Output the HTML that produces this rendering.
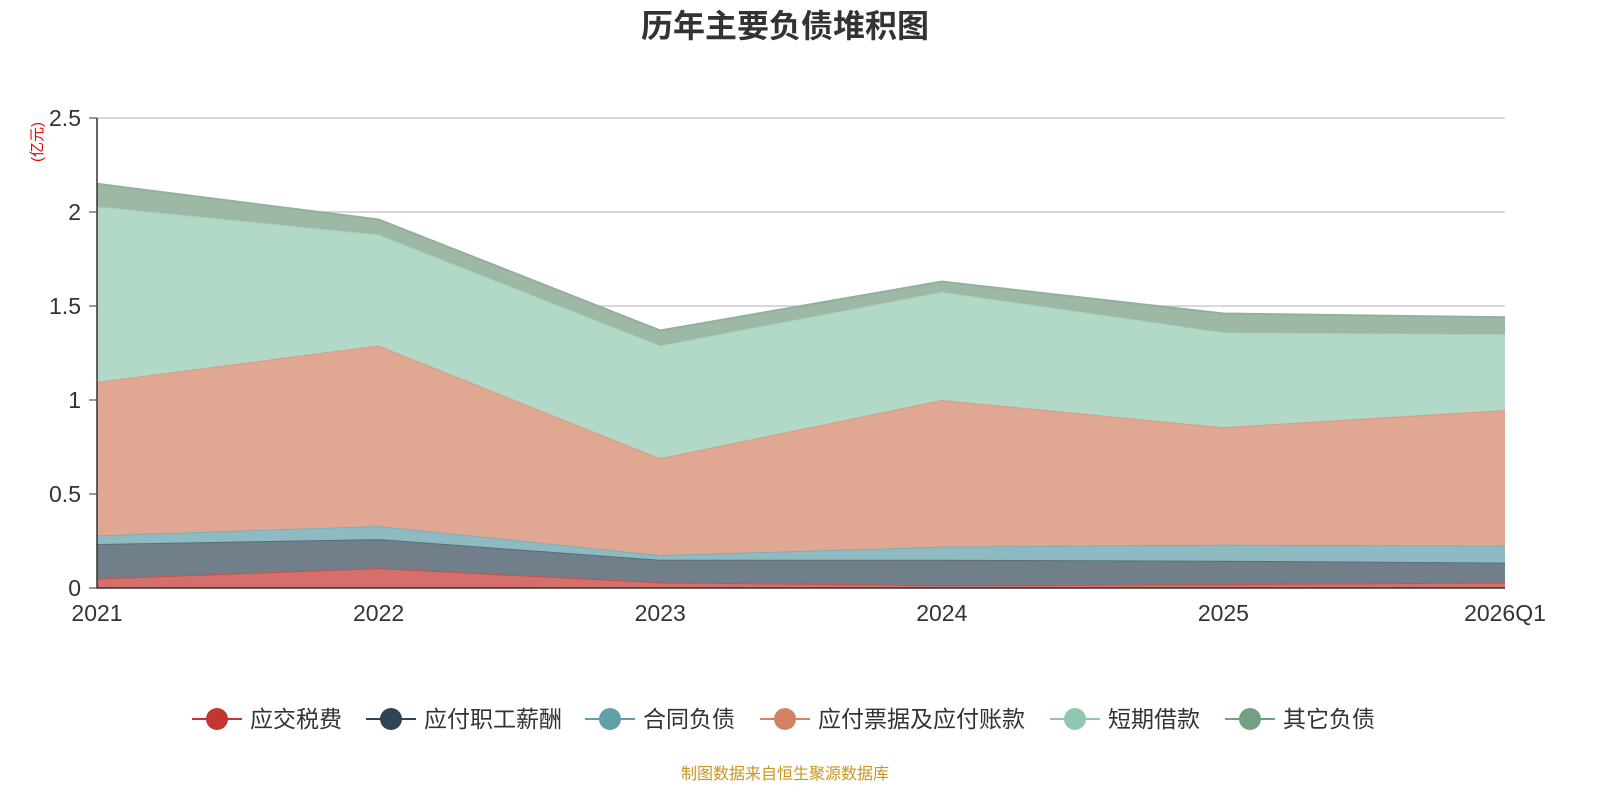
<!DOCTYPE html>
<html><head><meta charset="utf-8"><style>
body{margin:0;background:#fff;font-family:"Liberation Sans","Noto Sans CJK SC",sans-serif;}
svg text{font-family:"Liberation Sans","Noto Sans CJK SC",sans-serif;}
</style></head><body>
<svg id="chart" width="1600" height="800" xmlns="http://www.w3.org/2000/svg">
<text x="785" y="37" text-anchor="middle" font-size="32" font-weight="bold" fill="#333">历年主要负债堆积图</text>
<text transform="translate(42,142) rotate(-90)" text-anchor="middle" font-size="15" fill="#e00">(亿元)</text>
<g id="grid"></g><g id="areas"></g><g id="axes"></g><g id="legend"></g>
<text x="785" y="779" text-anchor="middle" font-size="16" fill="#c8961e">制图数据来自恒生聚源数据库</text>
</svg>
<script>
const categories=["2021","2022","2023","2024","2025","2026Q1"];
const seriesNames=["应交税费","应付职工薪酬","合同负债","应付票据及应付账款","短期借款","其它负债"];
const tax=[0.05,0.106,0.03,0.015,0.02,0.03];
const wages=[0.184,0.154,0.12,0.135,0.125,0.105];
const contract=[0.046,0.07,0.025,0.07,0.085,0.09];
const payables=[0.816,0.96,0.515,0.78,0.625,0.722];
const shortLoans=[0.934,0.59,0.6,0.575,0.505,0.403];
const other=[0.12,0.08,0.08,0.055,0.1,0.09];
const yTicks=[0,0.5,1,1.5,2,2.5];
const yTickLabels=["0","0.5","1","1.5","2","2.5"];
const series=[tax,wages,contract,payables,shortLoans,other];
const fills=["#d4706b","#707f8a","#8ebbc2","#e0a893","#b2d9c8","#9db8a5"];
const strokes=["#c9504a","#5b6b78","#7aaeb6","#d99a83","#a3d1bd","#92b09b"];
const legendColors=["#c23531","#2f4554","#61a0a8","#d48265","#91c7ae","#749f83"];
const NS="http://www.w3.org/2000/svg";
const x0=97,x1=1505,y0=588,yTop=118,yMax=2.5;
const xs=i=>x0+(x1-x0)*i/(categories.length-1);
const ys=v=>y0-(y0-yTop)*v/yMax;
function mk(tag,attrs,parent){const e=document.createElementNS(NS,tag);for(const k in attrs)e.setAttribute(k,attrs[k]);parent.appendChild(e);return e;}
const grid=document.getElementById('grid'),areas=document.getElementById('areas'),axes=document.getElementById('axes'),legend=document.getElementById('legend');
yTicks.forEach((t,i)=>{
 if(t>0){const l=mk('line',{x1:x0,x2:x1,y1:ys(t),y2:ys(t),stroke:'#ccc','stroke-width':1.5},grid);
 
 }
 const tl=mk('text',{x:81,y:ys(t)+8,'text-anchor':'end','font-size':23,fill:'#333'},axes);tl.textContent=yTickLabels[i];
 
 
 const tk=mk('line',{x1:89,x2:97,y1:ys(t),y2:ys(t),stroke:'#333'},axes);
 
 
});
let base=categories.map(()=>0);
series.forEach((s,k)=>{
 const top=base.map((b,i)=>b+s[i]);
 let d='M'+top.map((v,i)=>xs(i)+','+ys(v)).join(' L');
 for(let i=categories.length-1;i>=0;i--)d+=' L'+xs(i)+','+ys(base[i]);
 const p=mk('path',{d:d+'Z',fill:fills[k],stroke:'none'},areas);
 
 
 const ln=mk('polyline',{points:top.map((v,i)=>xs(i)+','+ys(v)).join(' '),fill:'none',stroke:strokes[k],'stroke-width':2},areas);
 
 
 base=top;
});
const ya=mk('line',{x1:x0,x2:x0,y1:yTop,y2:y0,stroke:'#333','stroke-width':1.5},axes);


const xa=mk('line',{x1:x0,x2:x1,y1:y0,y2:y0,stroke:'#333','stroke-width':1.5},axes);


categories.forEach((c,i)=>{
 const t=mk('text',{x:xs(i),y:621,'text-anchor':'middle','font-size':23,fill:'#333'},axes);t.textContent=c;
 
 
});
const legendX=[192,366,585,760,1050,1225];
seriesNames.forEach((n,k)=>{
 const g=mk('g',{},legend);
 
 
 mk('line',{x1:legendX[k],x2:legendX[k]+50,y1:719,y2:719,stroke:legendColors[k],'stroke-width':2},g);
 mk('circle',{cx:legendX[k]+25,cy:719,r:11,fill:legendColors[k]},g);
 const t=mk('text',{x:legendX[k]+58,y:727,'font-size':23,fill:'#333'},g);t.textContent=n;
});
</script>
</body></html>
